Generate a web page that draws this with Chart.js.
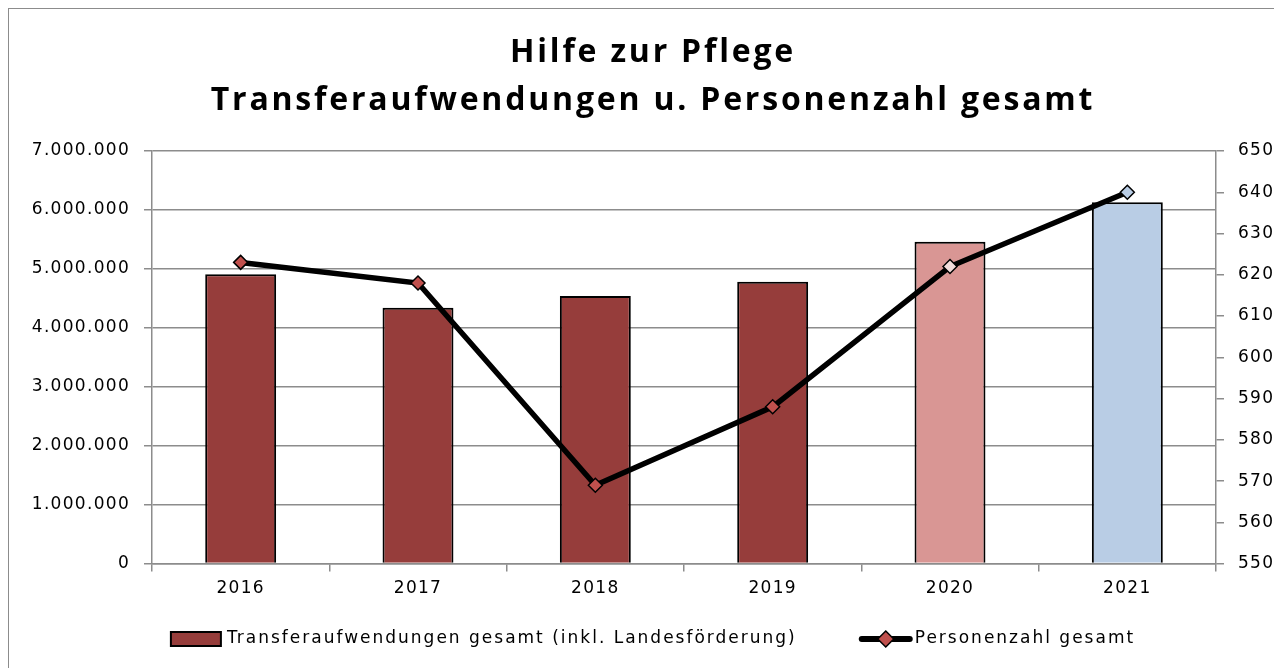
<!DOCTYPE html>
<html>
<head>
<meta charset="utf-8">
<script src="https://cdn.jsdelivr.net/npm/chart.js@4.4.1/dist/chart.umd.min.js"></script>
<style>
  html, body { margin: 0; padding: 0; background: #fff; overflow: hidden; }
  #frame {
    position: absolute; left: 8px; top: 8px;
    width: 1288px; height: 690px;
    border: 1.5px solid #8c8c8c; background: #fff;
  }
  #chart { display: block; }
</style>
</head>
<body>
<div id="frame"><canvas id="chart" width="1288" height="680"></canvas></div>
<script>
const years = ["2016", "2017", "2018", "2019", "2020", "2021"];
const transferTotal = [4910000, 4340000, 4540000, 4780000, 5460000, 6130000];
const personCount = [623, 618, 569, 588, 622, 640];
const titleLines = ["Hilfe zur Pflege", "Transferaufwendungen u. Personenzahl gesamt"];
const barLabel = "Transferaufwendungen gesamt (inkl. Landesförderung)";
const lineLabel = "Personenzahl gesamt";

const barColors = ["#963d3b", "#963d3b", "#963d3b", "#963d3b", "#d99694", "#b9cde5"];
const markerColors = ["#c0504d", "#c0504d", "#c0504d", "#c0504d", "#f2dcdb", "#b9cde5"];
const gridColor = "#8c8c8c";
const tickFont = { family: "DejaVu Sans", size: 17 };

function formatThousands(v) {
    return String(Math.round(v)).replace(/\B(?=(\d{3})+(?!\d))/g, ".");
}

// the Excel text is spaced out a bit, so widen the tick labels too
const spacing = {
    id: "spacing",
    beforeUpdate(chart) { chart.ctx.letterSpacing = "1.3px"; },
    beforeDraw(chart) { chart.ctx.letterSpacing = "1.3px"; }
};

// two-line title, drawn by hand so the letter spacing can follow the original
const titleDraw = {
    id: "titleDraw",
    afterDraw(chart) {
        const ctx = chart.ctx;
        ctx.save();
        ctx.letterSpacing = "2.8px";
        ctx.font = "bold 32px 'Open Sans'";
        ctx.fillStyle = "#000";
        ctx.textAlign = "center";
        ctx.textBaseline = "middle";
        const cx = chart.width / 2;
        ctx.fillText(titleLines[0], cx, 44);
        ctx.fillText(titleLines[1], cx, 92);
        ctx.restore();
    }
};

// legend row: bar swatch, line swatch with diamond
const legendRow = {
    id: "legendRow",
    afterDraw(chart) {
        const ctx = chart.ctx;
        const y = 630;
        ctx.save();
        ctx.letterSpacing = "2px";
        ctx.font = "17px 'DejaVu Sans'";
        ctx.textBaseline = "middle";
        ctx.textAlign = "left";
        const w1 = ctx.measureText(barLabel).width;
        const w2 = ctx.measureText(lineLabel).width;
        const total = 50 + 6 + w1 + 63 + 52 + 3 + w2;
        let x = chart.width / 2 - total / 2;

        ctx.fillStyle = barColors[0];
        ctx.fillRect(x, y - 7, 50, 14);
        ctx.strokeStyle = "#000";
        ctx.lineWidth = 2;
        ctx.strokeRect(x, y - 7, 50, 14);
        x += 56;
        ctx.fillStyle = "#000";
        ctx.fillText(barLabel, x, y);
        x += w1 + 63;

        ctx.lineWidth = 6;
        ctx.lineCap = "round";
        ctx.beginPath();
        ctx.moveTo(x + 2, y); ctx.lineTo(x + 50, y);
        ctx.stroke();
        const dx = x + 26;
        ctx.beginPath();
        ctx.moveTo(dx, y - 8); ctx.lineTo(dx + 8, y); ctx.lineTo(dx, y + 8); ctx.lineTo(dx - 8, y);
        ctx.closePath();
        ctx.fillStyle = markerColors[0];
        ctx.fill();
        ctx.lineWidth = 1.5;
        ctx.stroke();
        x += 55;
        ctx.fillStyle = "#000";
        ctx.fillText(lineLabel, x, y);
        ctx.restore();
    }
};

const canvas = document.getElementById("chart");

new Chart(canvas, {
    data: {
        labels: years,
        datasets: [
            {
                type: "line",
                label: lineLabel,
                data: personCount,
                borderColor: "#000",
                borderWidth: 5.5,
                pointStyle: "rectRot",
                pointRadius: 7,
                pointBackgroundColor: markerColors,
                pointBorderColor: "#000",
                pointBorderWidth: 1.5,
                tension: 0,
                yAxisID: "yPersons",
                order: 0
            },
            {
                type: "bar",
                label: barLabel,
                data: transferTotal,
                backgroundColor: barColors,
                borderColor: "#000",
                borderWidth: 2,
                categoryPercentage: 1,
                barPercentage: 0.4,
                yAxisID: "yEuro",
                order: 1
            }
        ]
    },
    options: {
        responsive: false,
        animation: false,
        layout: { padding: { left: 0, right: 0, top: 142, bottom: 83 } },
        scales: {
            x: {
                grid: { display: true, drawOnChartArea: false, offset: true, tickLength: 8, color: gridColor, lineWidth: 1.5 },
                border: { color: gridColor, width: 1.5 },
                ticks: { font: tickFont, color: "#000", padding: 7 }
            },
            yEuro: {
                type: "linear",
                position: "left",
                min: 0,
                max: 7000000,
                afterFit: s => { s.width = 143; },
                ticks: {
                    stepSize: 1000000,
                    font: tickFont,
                    color: "#000",
                    padding: 14,
                    callback: v => formatThousands(v)
                },
                grid: { color: gridColor, lineWidth: 1.5, tickLength: 8 },
                border: { color: gridColor, width: 1.5 }
            },
            yPersons: {
                type: "linear",
                position: "right",
                min: 550,
                max: 650,
                afterFit: s => { s.width = 81; },
                ticks: { stepSize: 10, font: tickFont, color: "#000", padding: 14 },
                grid: { drawOnChartArea: false, color: gridColor, lineWidth: 1.5, tickLength: 8 },
                border: { color: gridColor, width: 1.5 }
            }
        },
        plugins: {
            title: { display: false },
            legend: { display: false },
            tooltip: { enabled: false }
        }
    },
    plugins: [spacing, titleDraw, legendRow]
});
</script>
</body>
</html>
